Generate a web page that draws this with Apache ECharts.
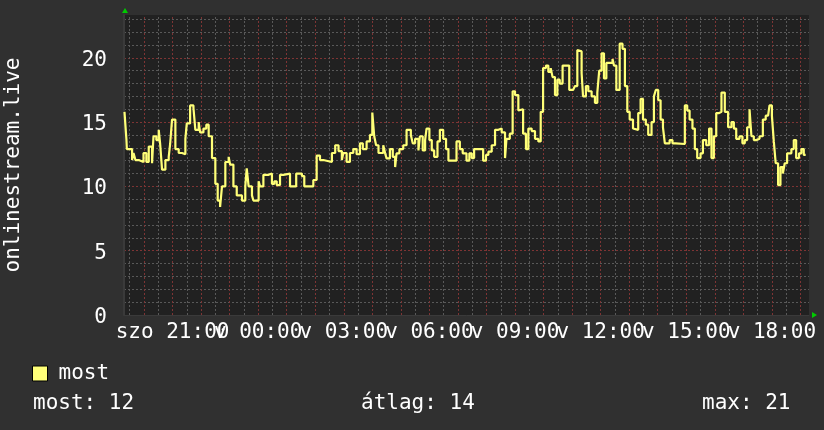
<!DOCTYPE html>
<html><head><meta charset="utf-8">
<script src="https://cdn.jsdelivr.net/npm/echarts@6/dist/echarts.min.js"></script>
<style>html,body{margin:0;padding:0;background:#303030}#c{width:824px;height:430px}</style>
</head><body><div id="c"></div>
<script>
// minutes since Saturday 19:00
const times = [
19,23,24,35,38,42,49,59,65,70,
77,80,86,91,94,98,105,112,115,119,
126,133,140,147,150,157,164,168,175,178,
185,191,196,203,210,215,220,224,231,238,
241,248,255,266,273,276,280,287,290,301,
304,311,322,329,334,339,346,353,367,380,
392,397,416,423,430,437,455,462,469,476,
479,486,493,500,507,514,520,528,535,540,
544,548,553,563,567,570,577,583,588,591,
597,605,612,621,625,630,637,640,646,651,
654,660,665,670,677,682,689,695,700,717,
724,730,738,744,749,754,773,779,784,791,
798,805,812,819,822,829,835,840,847,850,
857,863,868,875,882,889,894,899,905,910,
915,919,924,929,934,940,954,962,966,971,
975,980,983,989,994,1001,1008,1013,1017,1022,
1027,1032,1045,1048,1053,1060,1066,1071,1076,1081,
1088,1092,1099,1104,1109,1115,1120,1127,1132,1136,
1141,1146,1151,1155,1165,1171,1178,1197,1202,1207,
1213,1218,1223,1230,1235,1242,1248,1253,1258,1263,
1269,1274,1281,1288,1295,1300,1305,1312,1318,1323,
1328,1333,1337,1342,1347,1354,1361,1367,1372,1375,
1380,1384,1388,1393,1398,1403,1407,1412,1421,1426,
1431,1437,1442,1447,1451
];
const values = [
15.8,13.7,12.9,12.05,12.6,12.05,11.9,12.6,11.9,13.1,
11.8,13.9,13.6,14.4,13.3,11.3,12.05,12.3,13.3,15.2,
12.9,12.6,12.5,13.7,14.9,16.3,16.1,14.4,15.0,14.2,
14.5,14.8,13.9,12.2,10.2,8.9,8.4,10.0,11.9,12.3,
11.7,10.0,9.3,8.9,10.0,11.4,10.0,9.3,8.9,10.4,
10.0,10.9,11.0,10.2,10.4,10.1,10.9,11.0,10.0,11.0,
10.8,10.0,10.5,12.4,12.05,11.9,12.6,13.2,12.75,12.05,
12.6,11.9,12.6,12.9,12.5,13.35,12.9,13.5,14.0,15.75,
13.9,13.2,12.6,13.2,12.57,12.18,12.9,12.3,11.5,12.57,
12.9,13.2,14.4,14.0,13.35,13.7,12.8,13.9,12.8,13.6,
14.5,13.6,12.8,12.3,13.5,14.4,13.7,12.9,12.0,13.5,
12.9,12.57,12.0,12.57,12.2,12.9,12.0,12.45,12.7,13.2,
14.4,14.5,14.2,12.2,13.7,14.1,17.4,17.1,15.9,16.0,
14.1,12.9,14.5,14.3,13.7,13.5,15.8,19.2,19.4,18.9,
19.2,18.5,17.1,18.3,18.0,19.4,17.5,17.4,17.8,20.6,
20.5,18.8,17.0,17.8,17.4,17.0,16.5,17.3,19.0,20.35,
18.4,19.6,19.9,19.4,17.5,21.1,20.7,17.8,15.8,15.2,
14.5,14.4,15.7,16.8,15.2,14.8,14.0,15.0,17.0,17.5,
16.7,15.2,14.6,13.35,13.6,13.35,13.3,16.3,15.9,15.2,
14.5,12.9,12.2,12.57,13.6,13.2,14.5,12.2,13.9,15.7,
15.8,17.3,15.8,14.6,15.0,14.5,13.7,13.9,13.35,13.6,
14.6,16.0,13.9,13.6,13.7,13.9,15.2,15.5,15.6,16.3,
15.5,13.5,11.8,10.1,11.5,11.0,11.8,12.57,12.9,13.6,
12.2,12.57,12.9,12.45,12.45
];
const tickMinutes = [120,300,480,660,840,1020,1200,1380];
const tickLabels = ["szo 21:00","v 00:00","v 03:00","v 06:00","v 09:00","v 12:00","v 15:00","v 18:00"];
const seriesName = "most";
const axisTitle = "onlinestream.live";
const statLabels = ["most: 12","átlag: 14","max: 21"];

const FONT = "'DejaVu Sans Mono', monospace";
const RED = '#7e3434';
const GRAY = '#595959';
const data = times.map((t, i) => [t, values[i]]);
const labelMap = {};
tickMinutes.forEach((m, i) => { labelMap[m] = tickLabels[i]; });
// labels alternate between two axes so adjacent (overlapping) labels are all drawn
const ticksA = tickMinutes.filter((m, i) => i % 2 === 0);
const ticksB = tickMinutes.filter((m, i) => i % 2 === 1);
const vGrid = [];
for (let m = 30; m < 1458; m += 30) {
  vGrid.push({ xAxis: m, lineStyle: { color: m % 60 === 0 ? RED : GRAY, type: [2, 2], width: 1 } });
}
const xLabelStyle = (vals) => ({
  customValues: vals,
  formatter: v => labelMap[v] || '',
  hideOverlap: false, showMinLabel: true, showMaxLabel: true,
  color: '#ffffff', fontFamily: FONT, fontSize: 21, margin: 7
});

const chart = echarts.init(document.getElementById('c'));
chart.setOption({
  animation: false,
  backgroundColor: '#303030',
  grid: { left: 124, right: 15, top: 15, bottom: 115, show: true, backgroundColor: '#212121', borderWidth: 0, containLabel: false, outerBoundsMode: 'none' },
  legend: {
    left: 32, top: 363, padding: 0, itemWidth: 15, itemHeight: 15,
    data: [{ name: seriesName, icon: 'rect' }],
    itemStyle: { borderColor: '#000', borderWidth: 1 },
    textStyle: { color: '#ffffff', fontFamily: FONT, fontSize: 21, padding: [0, 0, 0, 6] }
  },
  xAxis: [{
    type: 'value', min: 18, max: 1458, position: 'bottom',
    axisLine: { show: true, lineStyle: { color: '#3a3a3a', width: 1 } },
    axisTick: { show: false },
    splitLine: { show: false },
    axisLabel: xLabelStyle(ticksA)
  }, {
    type: 'value', min: 18, max: 1458, position: 'bottom', offset: 0,
    axisLine: { show: false },
    axisTick: { show: false },
    splitLine: { show: false },
    axisLabel: xLabelStyle(ticksB)
  }],
  yAxis: {
    type: 'value', min: 0, max: 23.33, interval: 5,
    name: axisTitle, nameLocation: 'middle', nameRotate: 90, nameGap: 100,
    nameTextStyle: { color: '#ffffff', fontFamily: FONT, fontSize: 21 },
    axisLine: { show: true, lineStyle: { color: '#3a3a3a', width: 2 } },
    axisTick: { show: false },
    axisLabel: { color: '#ffffff', fontFamily: FONT, fontSize: 21, margin: 17, showMaxLabel: false, verticalAlign: 'top', lineHeight: 5 },
    splitLine: { show: true, showMaxLine: false, lineStyle: { color: RED, type: [2, 2], width: 1 } },
    minorTick: { show: false, splitNumber: 5 },
    minorSplitLine: { show: true, lineStyle: { color: GRAY, type: [2, 2], width: 1 } }
  },
  series: [
    {
      type: 'line', name: '_grid', data: [], silent: true, z: 1, xAxisIndex: 0,
      markLine: { silent: true, symbol: 'none', label: { show: false }, data: vGrid, animation: false }
    },
    {
      type: 'line', name: seriesName, data: data, step: 'end', showSymbol: false, z: 5, xAxisIndex: 0,
      lineStyle: { color: '#ffff78', width: 2.2 },
      itemStyle: { color: '#ffff78' }
    }
  ],
  graphic: [
    { type: 'polygon', shape: { points: [[122, 13], [128, 13], [125, 8]] }, style: { fill: '#00cc00' } },
    { type: 'polygon', shape: { points: [[812, 312], [812, 318], [817, 315]] }, style: { fill: '#00cc00' } },
    { type: 'text', x: 33, y: 404, style: { text: statLabels[0], fill: '#ffffff', font: "21px 'DejaVu Sans Mono'", verticalAlign: 'middle' } },
    { type: 'text', x: 361, y: 404, style: { text: statLabels[1], fill: '#ffffff', font: "21px 'DejaVu Sans Mono'", verticalAlign: 'middle' } },
    { type: 'text', x: 702, y: 404, style: { text: statLabels[2], fill: '#ffffff', font: "21px 'DejaVu Sans Mono'", verticalAlign: 'middle' } }
  ]
});
</script>
</body></html>
